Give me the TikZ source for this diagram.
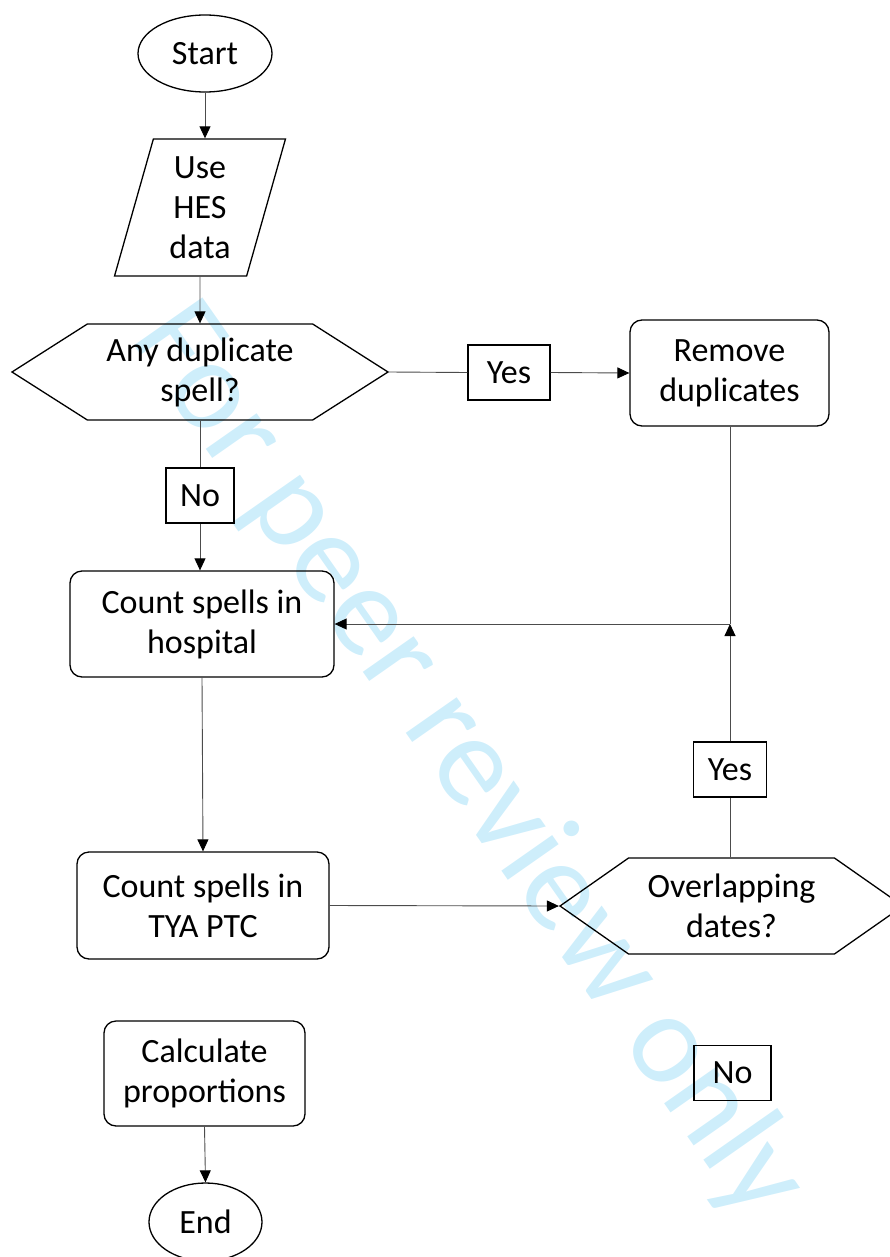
\documentclass[tikz,border=0pt]{standalone}
\usepackage{fontspec}
\setmainfont{Carlito}
\usepackage{tikz}
\usetikzlibrary{shapes.geometric,shapes.symbols,arrows.meta}
\definecolor{wmblue}{RGB}{206,238,251}
\tikzstyle{startstop} = [ellipse, draw=black, line width=1.3pt, inner sep=0pt]
\tikzstyle{io} = [trapezium, trapezium left angle=76, trapezium right angle=104, trapezium stretches=true, align=center, inner sep=0pt, draw=black, line width=1.3pt]
\tikzstyle{decision} = [signal, signal to=east and west, align=center, inner sep=0pt, draw=black, line width=1.3pt]
\tikzstyle{process} = [rectangle, rounded corners=12pt, align=center, inner sep=0pt, draw=black, line width=1.3pt]
\tikzstyle{answer} = [rectangle, inner sep=0pt, minimum height=55, draw=black, line width=1.3pt]
\tikzstyle{line} = [line width=0.9pt, draw=black!70]
\tikzstyle{arrow} = [line width=0.9pt, draw=black!70, -{Triangle[length=12pt,width=11pt,color=black]}]
\tikzset{
 wmark/.style
  = {text=wmblue, rotate=-55, font=\fontsize{130}{156}\selectfont, inner sep=0pt},
}

\begin{document}
\begin{tikzpicture}[x=1pt, y=-1pt, font=\fontsize{34}{40}\selectfont]
\useasboundingbox (0,0) rectangle (890,1257);
% watermark
\node (wm) [wmark] at (468,762) {For peer review only};
% flow
\node (start) [startstop, minimum width=134, minimum height=77] at (205,53.5) {Start};
\node (use) [io, minimum width=171, minimum height=137] at (200,207.5) {Use\\HES\\data};
\node (any) [decision, signal pointer angle=65, minimum width=376, minimum height=96] at (200,372) {Any duplicate\\spell?};
\node (yes1) [answer, minimum width=82] at (509,372.5) {Yes};
\node (remove) [process, minimum width=199, minimum height=106] at (729.5,373) {Remove\\duplicates};
\node (no1) [answer, minimum width=68] at (200,495.5) {No};
\node (hosp) [process, minimum width=264, minimum height=106] at (202,624) {Count spells in\\hospital};
\coordinate (join) at (730,624);
\node (yes2) [answer, minimum width=73] at (730,769.5) {Yes};
\node (tya) [process, minimum width=252, minimum height=107] at (203,905.5) {Count spells in\\TYA PTC};
\node (overlap) [decision, signal pointer angle=70, minimum width=343, minimum height=96] at (731.5,906) {Overlapping\\dates?};
\node (calc) [process, minimum width=201, minimum height=105] at (204.5,1073.5) {Calculate\\proportions};
\node (no2) [answer, minimum width=77] at (732.5,1073) {No};
\node (end) [startstop, minimum width=113, minimum height=78] at (205.5,1222) {End};
% connectors
\draw [arrow] (start.south) -- (start.south |- use.north);
\draw [arrow] (use.south) -- (any.north);
\draw [line] (any.east) -- (yes1.west);
\draw [arrow] (yes1.east) -- (remove.west);
\draw [line] (any.south) -- (no1.north);
\draw [arrow] (no1.south) -- (no1.south |- hosp.north);
\draw [line] (remove.south -| join) -- (join);
\draw [arrow] (join) -- (hosp.east);
\draw [line] (overlap.north -| yes2) -- (yes2.south);
\draw [arrow] (yes2.north) -- (join);
\draw [arrow] (hosp.south) -- (tya.north);
\draw [arrow] (tya.east) -- (overlap.west);
\draw [arrow] (calc.south) -- (end.north);
\end{tikzpicture}
\end{document}
